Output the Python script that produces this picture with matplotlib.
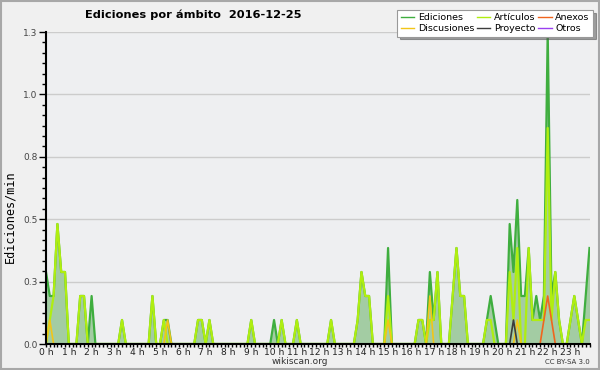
import numpy as np
import matplotlib
matplotlib.use("Agg")
import matplotlib.pyplot as plt
from matplotlib.ticker import FixedLocator, MultipleLocator, AutoMinorLocator
from matplotlib.lines import Line2D
from matplotlib.patches import Rectangle
from matplotlib import font_manager

# ediciones por minuto, un valor cada 10 minutos (6 por hora), de 0:00 a 23:50
ediciones = [
    0.3, 0.2, 0.2, 0.5, 0.3, 0.3,   0, 0, 0, 0.2, 0.2, 0,
    0.2, 0, 0, 0, 0, 0,             0, 0, 0.1, 0, 0, 0,
    0, 0, 0, 0, 0.2, 0,             0, 0.1, 0.1, 0, 0, 0,
    0, 0, 0, 0, 0.1, 0.1,           0, 0.1, 0, 0, 0, 0,
    0, 0, 0, 0, 0, 0,               0.1, 0, 0, 0, 0, 0,
    0.1, 0, 0.1, 0, 0, 0,           0.1, 0, 0, 0, 0, 0,
    0, 0, 0, 0.1, 0, 0,             0, 0, 0, 0, 0.1, 0.3,
    0.2, 0.2, 0, 0, 0, 0,           0.4, 0, 0, 0, 0, 0,
    0, 0, 0.1, 0.1, 0, 0.3,         0.1, 0.3, 0, 0, 0, 0.2,
    0.4, 0.2, 0.2, 0, 0, 0,         0, 0, 0.1, 0.2, 0.1, 0,
    0, 0, 0.5, 0.3, 0.6, 0.2,       0.2, 0.4, 0.1, 0.2, 0.1, 0.2,
    1.3, 0.2, 0.3, 0.1, 0, 0,       0.1, 0.2, 0.1, 0, 0.2, 0.4,
]
articulos = [
    0, 0.1, 0.2, 0.5, 0.3, 0.3,     0, 0, 0, 0.2, 0.2, 0,
    0, 0, 0, 0, 0, 0,               0, 0, 0.1, 0, 0, 0,
    0, 0, 0, 0, 0.2, 0,             0, 0.1, 0, 0, 0, 0,
    0, 0, 0, 0, 0.1, 0.1,           0, 0.1, 0, 0, 0, 0,
    0, 0, 0, 0, 0, 0,               0.1, 0, 0, 0, 0, 0,
    0, 0, 0.1, 0, 0, 0,             0.1, 0, 0, 0, 0, 0,
    0, 0, 0, 0.1, 0, 0,             0, 0, 0, 0, 0.1, 0.3,
    0.2, 0.2, 0, 0, 0, 0,           0.2, 0, 0, 0, 0, 0,
    0, 0, 0.1, 0.1, 0, 0.1,         0.1, 0.3, 0, 0, 0, 0.2,
    0.4, 0.2, 0.2, 0, 0, 0,         0, 0, 0.1, 0.1, 0, 0,
    0, 0, 0.3, 0.1, 0.4, 0,         0, 0.4, 0.1, 0.1, 0.1, 0.1,
    0.9, 0.1, 0.3, 0.1, 0, 0,       0.1, 0.2, 0.1, 0, 0.1, 0.1,
]
discusiones = [0.0] * 144
discusiones[1] = 0.1
discusiones[32] = 0.1
discusiones[90] = 0.1
discusiones[101] = 0.2
discusiones[124] = 0.1
anexos = [0.0] * 144
anexos[131] = 0.1
anexos[132] = 0.2
anexos[133] = 0.1
proyecto = [0.0] * 144
proyecto[123] = 0.1
otros = [0.0] * 144

horas = np.arange(len(ediciones)) / 6.0
hour_labels = [f"{h} h" for h in range(24)]

c_fill = '#a3cca3'
c_edic = '#3fae3f'
c_art = '#b0ee10'
c_disc = '#f2c518'
c_anex = '#f0651e'
c_proy = '#3c3c3c'
c_otros = '#9a40f0'

# fuente estrecha para el titulo si existe
names = {f.name for f in font_manager.fontManager.ttflist}
title_font = 'Liberation Sans Narrow' if 'Liberation Sans Narrow' in names else 'DejaVu Sans'
title_size = 10.5 if title_font == 'Liberation Sans Narrow' else 8.2

fig = plt.figure(figsize=(6, 3.7), dpi=100, facecolor='#f0f0f0')
ax = fig.add_axes([46 / 600, 26 / 370, 543.5 / 600, 312 / 370])
ax.set_facecolor('#eeeff1')

ax.fill_between(horas, 0, ediciones, color=c_fill, lw=0, zorder=1)
ax.plot(horas, ediciones, color=c_edic, lw=1.6, zorder=2)
ax.plot(horas, articulos, color=c_art, lw=1.6, zorder=2.1)
ax.plot(horas, discusiones, color=c_disc, lw=1.2, zorder=2.2)
ax.plot(horas, anexos, color=c_anex, lw=1.2, zorder=2.2)
ax.plot(horas, proyecto, color=c_proy, lw=1.2, zorder=2.2)
ax.plot(horas, otros, color=c_otros, lw=1.2, zorder=2.0)

ax.set_xlim(0, horas[-1])
ax.set_ylim(0, 1.3)

yt = np.linspace(0, 1.3, 6)
ax.set_yticks(yt)
ax.set_yticklabels([f"{v:.1f}" for v in yt], fontsize=6.5, color='#444444')
ax.yaxis.set_minor_locator(AutoMinorLocator(6))
ax.xaxis.set_major_locator(FixedLocator(range(24)))
ax.set_xticklabels(hour_labels, fontsize=6.6, color='#222222')
ax.xaxis.set_minor_locator(MultipleLocator(1 / 6))
ax.tick_params(axis='y', which='major', length=5, width=1, direction='out', pad=1)
ax.tick_params(axis='y', which='minor', length=3, width=1, direction='out')
ax.tick_params(axis='x', which='both', length=2.5, width=1, direction='out', pad=0.5)

ax.grid(axis='y', color='#cccccc', lw=1)
ax.set_axisbelow(True)
for s in ['top', 'right']:
    ax.spines[s].set_visible(False)
for s in ['left', 'bottom']:
    ax.spines[s].set_linewidth(1.5)
    ax.spines[s].set_zorder(3)

fig.text(85 / 600, 1 - 15 / 370, 'Ediciones por ámbito  2016-12-25',
         family=title_font, fontsize=title_size, fontweight='bold',
         va='center', ha='left')
fig.text(10 / 600, 1 - 217 / 370, 'Ediciones/min', rotation=90,
         family='DejaVu Sans Mono', fontsize=8.5, va='center', ha='center')
fig.text(300 / 600, 1 - 362 / 370, 'wikiscan.org', fontsize=6.5,
         ha='center', va='center', color='#333333')
fig.text(590 / 600, 1 - 362 / 370, 'CC BY-SA 3.0', fontsize=5,
         ha='right', va='center', color='#333333')

handles = [Line2D([], [], color=c_edic, lw=1), Line2D([], [], color=c_disc, lw=1),
           Line2D([], [], color=c_art, lw=1), Line2D([], [], color=c_proy, lw=1),
           Line2D([], [], color=c_anex, lw=1), Line2D([], [], color=c_otros, lw=1)]
labels = ['Ediciones', 'Discusiones', 'Artículos', 'Proyecto', 'Anexos', 'Otros']
leg = fig.legend(handles, labels, ncol=3, loc='upper right',
                 bbox_to_anchor=(593 / 600, 1 - 10 / 370), fontsize=6.8,
                 frameon=True, fancybox=False, shadow=True,
                 handlelength=1.4, handletextpad=0.4, columnspacing=0.3,
                 labelspacing=0.2, borderpad=0.35, borderaxespad=0)
leg.get_frame().set_edgecolor('#999999')
leg.get_frame().set_facecolor('white')
leg.get_frame().set_linewidth(0.8)

fig.patches.append(Rectangle((0.001, 0.002), 0.997, 0.995, transform=fig.transFigure,
                             fill=False, edgecolor='#a8a8a8', lw=1.5))

fig.savefig('out.png', dpi=100, facecolor=fig.get_facecolor())
